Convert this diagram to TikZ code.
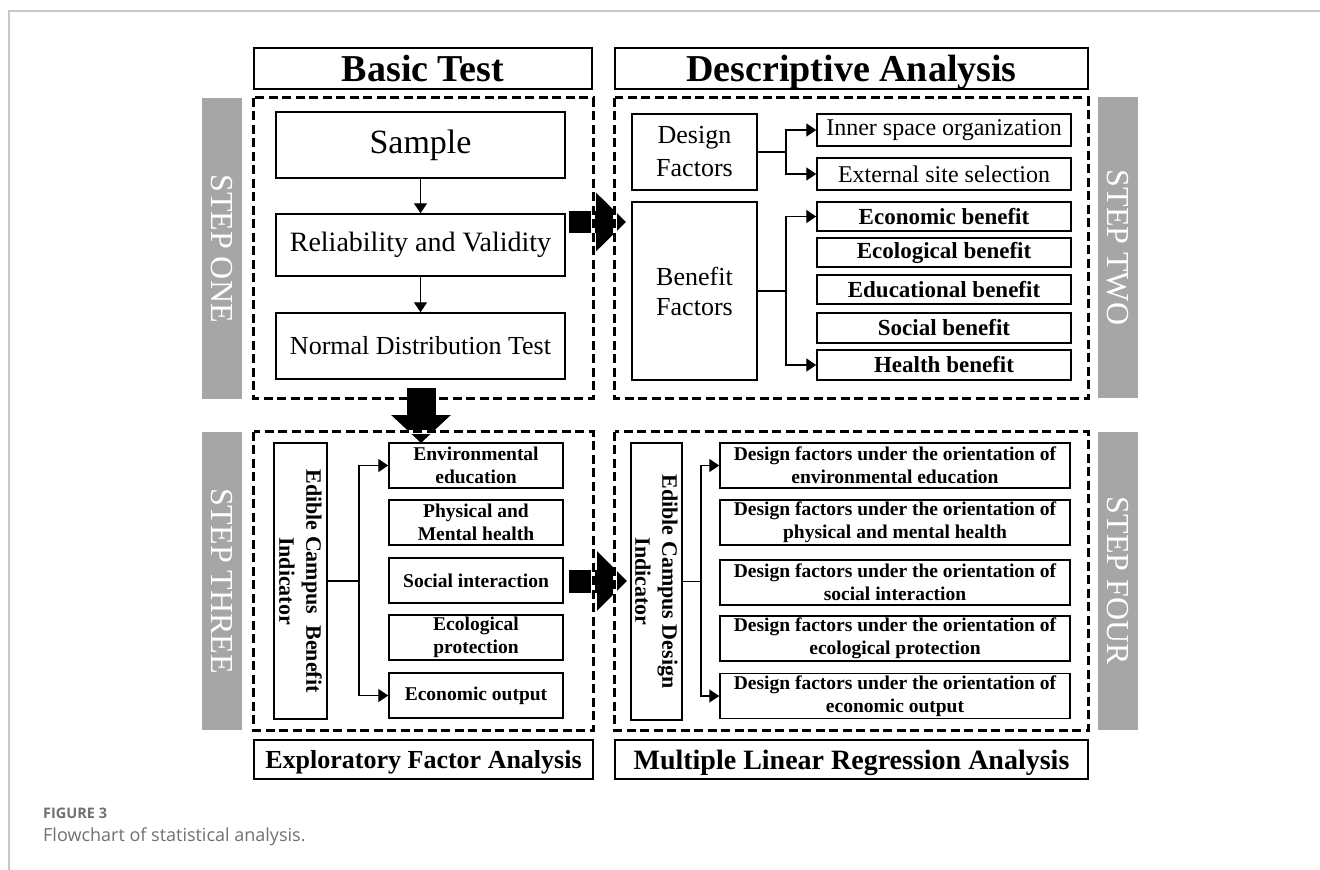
\documentclass[tikz,border=0pt]{standalone}
\usepackage{fontspec}
\setmainfont{Liberation Serif}
\newfontfamily\capfont{Open Sans}
\usetikzlibrary{arrows.meta}
\definecolor{bargray}{HTML}{A6A6A6}
\definecolor{capgray}{HTML}{707070}
\definecolor{framegray}{HTML}{C8C8C8}
\begin{document}
\begin{tikzpicture}[x=1pt,y=-1pt,
  box/.style={draw, line width=1.5pt, inner sep=0pt, align=center},
  hdr/.style={box, text height=25pt, text depth=0pt, font=\fontsize{38}{44}\selectfont\bfseries},
  ftr/.style={box, text height=18pt, text depth=0pt, font=\fontsize{26}{30}\selectfont\bfseries},
  onebox/.style={box, minimum width=289pt},
  regtxt/.style={box, font=\fontsize{24}{28}\selectfont},
  bentxt/.style={box, minimum width=254pt, font=\fontsize{23}{27}\selectfont\bfseries},
  threetxt/.style={box, minimum width=174pt, minimum height=45pt, font=\fontsize{19.5}{23}\selectfont\bfseries},
  fourtxt/.style={box, minimum width=350pt, minimum height=45pt, font=\fontsize{19.5}{23}\selectfont\bfseries},
  indtxt/.style={box, rotate=-90, font=\fontsize{22}{27}\selectfont\bfseries},
  stepbar/.style={fill=bargray, rotate=-90, inner sep=0pt, text=white, font=\fontsize{32}{36}\selectfont},
  area/.style={inner sep=0pt},
  halo/.style={white, line width=3.6pt},
  dashbox/.style={black, line width=2.8pt, dash pattern=on 9pt off 4.5pt},
  conn/.style={line width=1.4pt},
  arr/.style={conn, -{Triangle[length=10pt 0 0, width=13pt 0 0]}},
  bigarrow/.style={line width=22pt, -{Triangle[length=30pt 0 0, width=57pt 0 0]}},
]
\useasboundingbox (0,0) rectangle (1320,870);
% card frame
\draw[framegray, line width=1.5pt] (9,870) -- (9,11) -- (1320,11);

% headers
\node[hdr, minimum width=338pt, minimum height=41pt] (hBasic) at (423,68.5) {Basic Test};
\node[hdr, minimum width=473pt, minimum height=41pt] (hDesc) at (851.5,68.5) {Descriptive Analysis};
\node[ftr, minimum width=339pt, minimum height=39pt] (hEFA) at (423.5,759.5) {Exploratory Factor Analysis};
\node[ftr, minimum width=473pt, minimum height=39pt, text height=19pt, font=\fontsize{28}{32}\selectfont\bfseries] (hMLR) at (851.5,759.5) {Multiple Linear Regression Analysis};

% dashed areas (drawn later)
\node[area, minimum width=339pt, minimum height=300pt] (d1) at (423.5,248) {};
\node[area, minimum width=473pt, minimum height=300pt] (d2) at (851.5,248) {};
\node[area, minimum width=339pt, minimum height=298pt] (d3) at (423.5,581) {};
\node[area, minimum width=473pt, minimum height=298pt] (d4) at (851.5,581) {};

% step bars
\node[stepbar, minimum width=301pt, minimum height=40pt] (b1) at (222,248.5) {STEP ONE};
\node[stepbar, minimum width=301pt, minimum height=40pt] (b2) at (1118,247.5) {STEP TWO};
\node[stepbar, minimum width=298pt, minimum height=40pt] (b3) at (222,581) {STEP THREE};
\node[stepbar, minimum width=298pt, minimum height=40pt] (b4) at (1118,581) {STEP FOUR};

% step one
\node[onebox, minimum height=66pt, font=\fontsize{34}{38}\selectfont] (sample) at (420.5,145) {Sample};
\node[onebox, minimum height=62pt, font=\fontsize{28}{32}\selectfont] (rel) at (420.5,245) {Reliability and Validity};
\node[onebox, minimum height=66pt, font=\fontsize{26}{30}\selectfont] (norm) at (420.5,346) {Normal Distribution Test};
\draw[arr] (sample) -- (rel);
\draw[arr] (rel) -- (norm);

% step two
\node[box, minimum width=125pt, minimum height=76pt, font=\fontsize{26}{33}\selectfont] (design) at (694.5,152) {Design\\Factors};
\node[box, minimum width=125pt, minimum height=178pt, font=\fontsize{26}{30}\selectfont] (benefit) at (694.5,291) {Benefit\\Factors};
\node[regtxt, minimum width=254pt, minimum height=32pt] (inner) at (944,130) {Inner space organization};
\node[regtxt, minimum width=254pt, minimum height=32pt] (external) at (944,174) {External site selection};
\node[bentxt, minimum height=29pt] (econ) at (944,216.5) {Economic benefit};
\node[bentxt, minimum height=29pt] (ecol) at (944,252.5) {Ecological benefit};
\node[bentxt, minimum height=29pt] (educ) at (944,289.5) {Educational benefit};
\node[bentxt, minimum height=30pt] (social) at (944,328) {Social benefit};
\node[bentxt, minimum height=30pt] (health) at (944,365) {Health benefit};
\coordinate (j1) at (786,152);
\coordinate (j2) at (786,291);
\draw[conn] (design.east) -- (j1);
\draw[arr] (j1) |- (inner.west);
\draw[arr] (j1) |- (external.west);
\draw[conn] (benefit.east) -- (j2);
\draw[arr] (j2) |- (econ.west);
\draw[arr] (j2) |- (health.west);

% step three
\node[indtxt, minimum width=276pt, minimum height=53pt] (ind3) at (300.5,581) {Edible Campus~~Benefit\\Indicator};
\node[threetxt] (env) at (476,465.5) {Environmental\\education};
\node[threetxt] (phys) at (476,522.5) {Physical and\\Mental health};
\node[threetxt] (soc3) at (476,580.5) {Social interaction};
\node[threetxt] (eco3) at (476,637.5) {Ecological\\protection};
\node[threetxt] (out3) at (476,695.5) {Economic output};
\coordinate (j3) at (359,581);
\draw[conn] (ind3.north) -- (j3);
\draw[arr] (j3) |- (env.west);
\draw[arr] (j3) |- (out3.west);

% step four
\node[indtxt, minimum width=277pt, minimum height=51pt] (ind4) at (656.5,581.5) {Edible Campus Design\\Indicator};
\node[fourtxt] (f1) at (895,465.5) {Design factors under the orientation of\\environmental education};
\node[fourtxt] (f2) at (895,522.5) {Design factors under the orientation of\\physical and mental health};
\node[fourtxt] (f3) at (895,582.5) {Design factors under the orientation of\\social interaction};
\node[fourtxt] (f4) at (895,638.5) {Design factors under the orientation of\\ecological protection};
\node[fourtxt] (f5) at (895,696) {Design factors under the orientation of\\economic output};
\coordinate (j4) at (701,581.5);
\draw[conn] (ind4.north) -- (j4);
\draw[arr] (j4) |- (f1.west);
\draw[arr] (j4) |- (f5.west);

% big horizontal arrows (under the dashed frames)
\coordinate (a1s) at (569,222);
\coordinate (a1e) at (626,222);
\draw[bigarrow] (a1s) -- (a1e);
\coordinate (a3s) at (569,581);
\coordinate (a3e) at (627,581);
\draw[line width=23pt, -{Triangle[length=30pt 0 0, width=58pt 0 0]}] (a3s) -- (a3e);

% dashed frames of steps one, two, four
\foreach \d in {d1,d2,d4}{
  \draw[halo] (\d.north west) rectangle (\d.south east);
  \draw[dashbox] (\d.north west) rectangle (\d.south east);
}

% big down arrow (over frame one, under frame three)
\coordinate (a2s) at (421,388);
\coordinate (a2e) at (421,443);
\draw[line width=29pt, -{Triangle[length=28pt 0 0, width=58pt 0 0]}] (a2s) -- (a2e);

% dashed frame of step three
\draw[halo] (d3.north west) rectangle (d3.south east);
\draw[dashbox] (d3.north west) rectangle (d3.south east);

% caption
\node[anchor=west, inner sep=0pt, text=capgray, font=\capfont\bfseries\fontsize{14.5}{17}\selectfont] (figlab) at (43,813) {FIGURE 3};
\node[anchor=west, inner sep=0pt, text=capgray, font=\capfont\fontsize{18}{21}\selectfont] (figcap) at (43,837) {Flowchart of statistical analysis.};
\end{tikzpicture}
\end{document}
